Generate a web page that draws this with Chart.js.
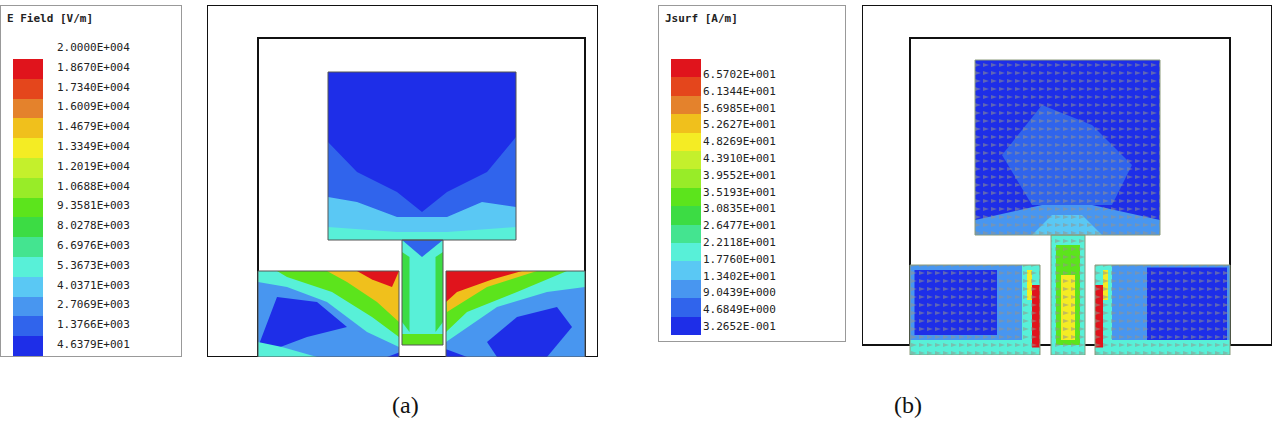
<!DOCTYPE html>
<html>
<head>
<meta charset="utf-8">
<title>E field / Jsurf</title>
<script src="https://cdn.jsdelivr.net/npm/chart.js@4.4.0/dist/chart.umd.min.js"></script>
<style>
  body { margin:0; width:1280px; height:428px; background:#fff; position:relative; overflow:hidden; font-family:"DejaVu Sans Mono", monospace; }
  .legend { position:absolute; border:1px solid #999; background:#fff; }
  .legend .title { position:absolute; left:6px; top:6px; font-size:11px; font-weight:bold; color:#222; }
  .legend .sw { position:absolute; width:30px; }
  .legend .lab { position:absolute; font-size:11px; color:#222; }
  .frame { position:absolute; }
  .cap { position:absolute; font-family:"Liberation Serif", serif; font-size:24px; color:#111; }
</style>
</head>
<body>

<div class="legend" id="legA" style="left:0;top:5px;width:180px;height:350px"></div>
<div class="frame" style="left:207px;top:5px;width:391px;height:352px"><canvas id="chartA"></canvas></div>
<div class="legend" id="legB" style="left:658px;top:5px;width:186px;height:335px"></div>
<div class="frame" style="left:862px;top:5px;width:410px;height:350px"><canvas id="chartB"></canvas></div>
<div class="cap" style="left:392px;top:392px">(a)</div>
<div class="cap" style="left:894px;top:392px">(b)</div>

<script>
// colour bands, top (max) to bottom (min)
var bandColors = ['#e0141c','#e4461c','#e4822c','#f0c01c','#f4ec24','#c4f02c','#98ec28','#5ce41c',
                  '#3cdc44','#44e490','#58f0d8','#5ac8f4','#4896f0','#3064ec','#1e2ee8'];
var labelsA = ['2.0000E+004','1.8670E+004','1.7340E+004','1.6009E+004','1.4679E+004','1.3349E+004',
               '1.2019E+004','1.0688E+004','9.3581E+003','8.0278E+003','6.6976E+003','5.3673E+003',
               '4.0371E+003','2.7069E+003','1.3766E+003','4.6379E+001'];
var labelsB = ['6.5702E+001','6.1344E+001','5.6985E+001','5.2627E+001','4.8269E+001','4.3910E+001',
               '3.9552E+001','3.5193E+001','3.0835E+001','2.6477E+001','2.2118E+001','1.7760E+001',
               '1.3402E+001','9.0439E+000','4.6849E+000','3.2652E-001'];

// geometry (mm) of antenna panels
var outerA = [0, 78.2, 0, 70.4], innerA = [10.2, 75.6, 0, 63.8];
var patchA = [24.2, 61.8, 23.4, 57], stemA = [39, 47.2, 2.4, 23.4];
var gndLA = [10.2, 38.4, 0, 17.2], gndRA = [47.8, 75.6, 0, 17.2];

var outerB = [0, 82, 2, 70], innerB = [9.6, 73.6, 2, 63.4];
var patchB = [22.6, 59.6, 24, 59], stemB = [37.8, 44.6, 0, 24];
var gndLB = [9.6, 35.6, 0, 18], gndRB = [46.6, 73.6, 0, 18];

// field regions in (a): [band index, polygon]
var fieldA = [
  [13, [[24.2,23.4],[61.8,23.4],[61.8,46],[24.2,46]]],
  [11, [[24.2,23.4],[61.8,23.4],[61.8,30],[55,31],[48,28],[38,28],[30,31],[24.2,32]]],
  [10, [[24.2,23.4],[61.8,23.4],[61.8,26],[48,25],[38,25],[24.2,26]]],
  [14, [[24.2,57],[61.8,57],[61.8,44],[56,37],[48,33],[43,29],[38,33],[30,37],[24.2,43]]],
  [10, [[39,2.4],[47.2,2.4],[47.2,23.4],[39,23.4]]],
  [8,  [[39,7],[40.5,5],[40.5,20],[39,21]]],
  [8,  [[47.2,7],[45.7,5],[45.7,20],[47.2,21]]],
  [13, [[39,23.4],[47.2,23.4],[43,20]]],
  [7,  [[39,2.4],[47.2,2.4],[47.2,4.6],[39,4.6]]],
  // left ground
  [12, [[10.2,0],[38.4,0],[38.4,17.2],[10.2,17.2]]],
  [14, [[10.2,2],[14,12],[22,11],[28,6],[20,4],[12,1]]],
  [10, [[10.2,17.2],[38.4,17.2],[38.4,2],[32,5],[24,11],[16,14],[10.2,15]]],
  [7,  [[14,17.2],[38.4,17.2],[38.4,4],[33,8],[25,13],[16,16]]],
  [3,  [[24,17.2],[38.4,17.2],[38.4,7],[34,11],[28,15]]],
  [0,  [[30,17.2],[38.4,17.2],[37,14],[33,15.5]]],
  [10, [[10.2,0],[22,0],[15,2],[10.2,3]]],
  // right ground
  [12, [[47.8,0],[75.6,0],[75.6,17.2],[47.8,17.2]]],
  [14, [[58,0],[68,0],[73,6],[70,10],[62,8],[56,3]]],
  [10, [[47.8,17.2],[75.6,17.2],[75.6,14],[68,13],[58,10],[47.8,3]]],
  [7,  [[47.8,17.2],[72,17.2],[62,13],[52,9],[47.8,5]]],
  [3,  [[47.8,17.2],[66,17.2],[56,14],[48,9]]],
  [0,  [[47.8,17.2],[63,17.2],[57,15.5],[50,13],[47.8,11]]],
  [14, [[36,0],[52,0],[48,1.5],[40,1.5]]]
];

// field regions in (b)
var fieldB = [
  [14, [[22.6,24],[59.6,24],[59.6,59],[22.6,59]]],
  [13, [[28,40],[36,50],[46,46],[54,38],[50,30],[34,30]]],
  [12, [[22.6,24],[59.6,24],[59.6,27],[46,30],[36,30],[22.6,27]]],
  [11, [[34,24],[48,24],[44,28],[38,28]]],
  [10, [[37.8,0],[44.6,0],[44.6,24],[37.8,24]]],
  [7,  [[38.8,2],[43.6,2],[43.6,22],[38.8,22]]],
  [4,  [[39.8,3],[42.6,3],[42.6,16],[39.8,16]]],
  [12, [[9.6,0],[35.6,0],[35.6,18],[9.6,18]]],
  [14, [[10.5,4],[27,4],[27,17],[10.5,17]]],
  [10, [[9.6,0],[35.6,0],[35.6,3],[9.6,3]]],
  [12, [[46.6,0],[73.6,0],[73.6,18],[46.6,18]]],
  [14, [[57,3],[73,3],[73,17.5],[57,17.5]]],
  [10, [[46.6,0],[73.6,0],[73.6,3],[46.6,3]]],
  [10, [[32,1],[35.6,1],[35.6,18],[32,18]]],
  [10, [[46.6,1],[50,1],[50,18],[46.6,18]]],
  [0,  [[34,1.5],[35.6,1.5],[35.6,14],[34,14]]],
  [0,  [[46.6,1.5],[48.2,1.5],[48.2,14],[46.6,14]]],
  [4,  [[33,11],[34,11],[34,17],[33,17]]],
  [4,  [[48.2,11],[49.2,11],[49.2,17],[48.2,17]]]
];

function rectPts(r) { return [[r[0],r[2]],[r[1],r[2]],[r[1],r[3]],[r[0],r[3]]]; }

function buildLegend(id, labels, title, swTop, swStep, labTop, labStep) {
  var el = document.getElementById(id);
  var html = '<div class="title">' + title + '</div>';
  for (var i = 0; i < bandColors.length; i++)
    html += '<div class="sw" style="left:12px;top:' + (swTop + i * swStep) + 'px;height:' + (swStep + 0.5) + 'px;background:' + bandColors[i] + '"></div>';
  for (var j = 0; j < labels.length; j++)
    html += '<div class="lab" style="left:' + (id === 'legA' ? 56 : 44) + 'px;top:' + (labTop + j * labStep) + 'px">' + labels[j] + '</div>';
  el.innerHTML = html;
}
buildLegend('legA', labelsA, 'E Field [V/m]', 53, 19.8, 35, 19.8);
buildLegend('legB', labelsB, 'Jsurf [A/m]', 53, 18.4, 62, 16.8);

function arrowPattern(ctx) {
  var c = document.createElement('canvas'); c.width = 8; c.height = 8;
  var g = c.getContext('2d');
  g.fillStyle = 'rgba(150,150,140,0.55)';
  g.beginPath(); g.moveTo(1,6); g.lineTo(7,4); g.lineTo(1,2); g.closePath(); g.fill();
  return ctx.createPattern(c, 'repeat');
}

var fieldPlugin = {
  id: 'field',
  beforeDatasetsDraw: function (chart, args, opts) {
    var ctx = chart.ctx, xs = chart.scales.x, ys = chart.scales.y;
    function poly(pts) {
      ctx.beginPath();
      pts.forEach(function (p, i) {
        var px = xs.getPixelForValue(p[0]), py = ys.getPixelForValue(p[1]);
        if (i === 0) ctx.moveTo(px, py); else ctx.lineTo(px, py);
      });
      ctx.closePath();
    }
    ctx.save();
    ctx.lineWidth = 2; ctx.strokeStyle = '#111';
    poly(rectPts(opts.outer)); ctx.stroke();
    poly(rectPts(opts.inner)); ctx.stroke();
    var metal = [opts.patch, opts.stem, opts.gndL, opts.gndR];
    ctx.save();
    ctx.beginPath();
    metal.forEach(function (r) {
      var x0 = xs.getPixelForValue(r[0]), x1 = xs.getPixelForValue(r[1]);
      var y0 = ys.getPixelForValue(r[2]), y1 = ys.getPixelForValue(r[3]);
      ctx.rect(x0, y1, x1 - x0, y0 - y1);
    });
    ctx.clip();
    opts.regions.forEach(function (f) { ctx.fillStyle = bandColors[f[0]]; poly(f[1]); ctx.fill(); });
    if (opts.arrows) { ctx.fillStyle = arrowPattern(ctx); ctx.fillRect(0, 0, chart.width, chart.height); }
    ctx.restore();
    ctx.lineWidth = 1; ctx.strokeStyle = opts.arrows ? '#8a9a7a' : '#555';
    metal.forEach(function (r) { poly(rectPts(r)); ctx.stroke(); });
    ctx.restore();
  }
};

function makeChart(id, xmax, ymin, ymax, cfg) {
  return new Chart(document.getElementById(id), {
    type: 'scatter',
    data: { datasets: [{ data: [] }] },
    options: {
      responsive: true, maintainAspectRatio: false, animation: false,
      layout: { padding: 0 },
      plugins: { legend: { display: false }, tooltip: { enabled: false }, field: cfg },
      scales: {
        x: { display: false, min: 0, max: xmax },
        y: { display: false, min: ymin, max: ymax }
      }
    },
    plugins: [fieldPlugin]
  });
}

makeChart('chartA', 78.2, 0, 70.4, { outer: outerA, inner: innerA, patch: patchA, stem: stemA, gndL: gndLA, gndR: gndRA, regions: fieldA, arrows: false });
makeChart('chartB', 82, 0, 70, { outer: outerB, inner: innerB, patch: patchB, stem: stemB, gndL: gndLB, gndR: gndRB, regions: fieldB, arrows: true });
</script>
</body>
</html>
